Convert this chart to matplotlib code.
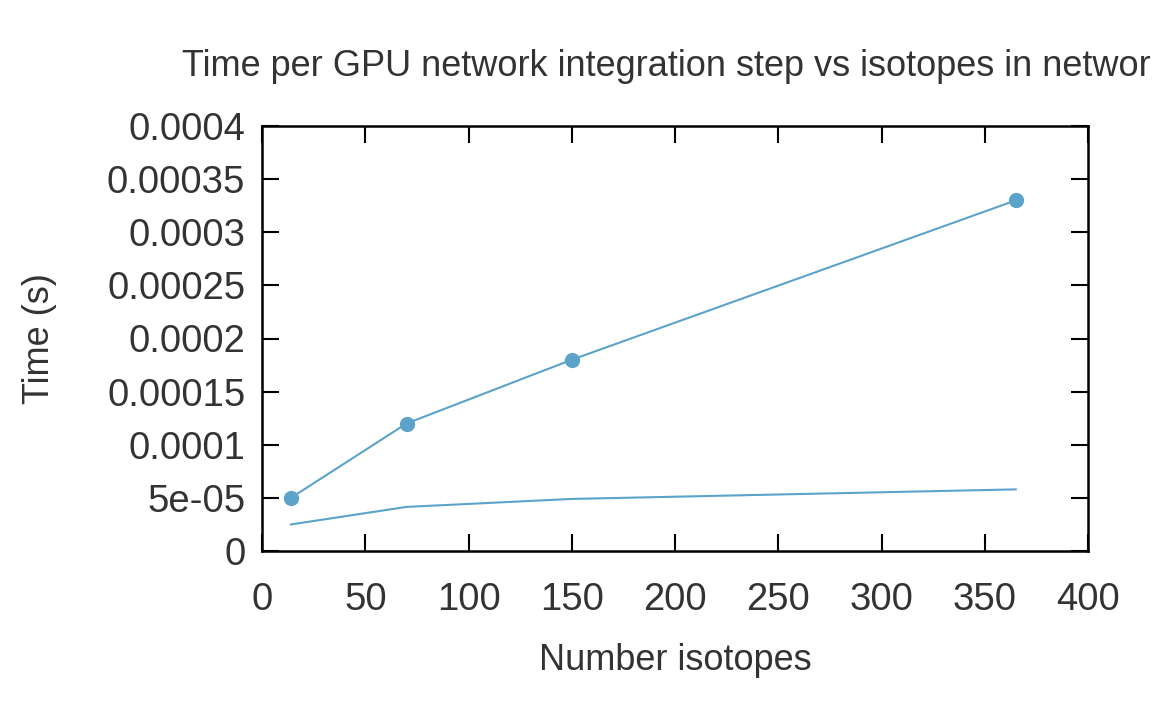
#!/usr/bin/env python3

import matplotlib as mpl
import matplotlib.pyplot as plt

mpl.use("Agg")

# Data
isotopes = [14, 70, 150, 365]
time_total = [5.0e-5, 1.2e-4, 1.8e-4, 3.3e-4]
time_lower = [2.5e-5, 4.15e-5, 4.9e-5, 5.8e-5]
xticks = [0, 50, 100, 150, 200, 250, 300, 350, 400]
yticks = [0, 5e-5, 1e-4, 1.5e-4, 2e-4, 2.5e-4, 3e-4, 3.5e-4, 4e-4]
ytick_labels = ["0", "5e-05", "0.0001", "0.00015", "0.0002", "0.00025",
                "0.0003", "0.00035", "0.0004"]

color = "#5ba3c9"
text_color = "#333333"

plt.rcParams["font.family"] = ["Liberation Sans", "DejaVu Sans"]

fig = plt.figure(figsize=(11.52, 7.2), dpi=100)
ax = fig.add_axes([262 / 1152, 1 - 551 / 720, 826 / 1152, 425 / 720])

ax.plot(isotopes, time_total, color=color, lw=1.5, marker="o", ms=11, mew=0)
ax.plot(isotopes, time_lower, color=color, lw=1.5)

ax.set_xlim(0, 400)
ax.set_ylim(0, 4e-4)
ax.set_xticks(xticks)
ax.set_xticklabels([str(t) for t in xticks])
ax.set_yticks(yticks)
ax.set_yticklabels(ytick_labels)
ax.tick_params(direction="in", length=12, width=1.5, top=True, right=True,
               labelsize=27.5, labelcolor=text_color)
ax.tick_params(axis="x", pad=22)
ax.tick_params(axis="y", pad=12)
for sp in ax.spines.values():
    sp.set_linewidth(1.8)

ax.set_xlabel("Number isotopes", fontsize=26, color=text_color, labelpad=18)
ax.set_ylabel("Time (s)", fontsize=26, color=text_color, labelpad=36)
ax.set_title("Time per GPU network integration step vs isotopes in network",
             fontsize=26, color=text_color, pad=36)

fig.savefig("out.png", dpi=100)
plt.close(fig)
